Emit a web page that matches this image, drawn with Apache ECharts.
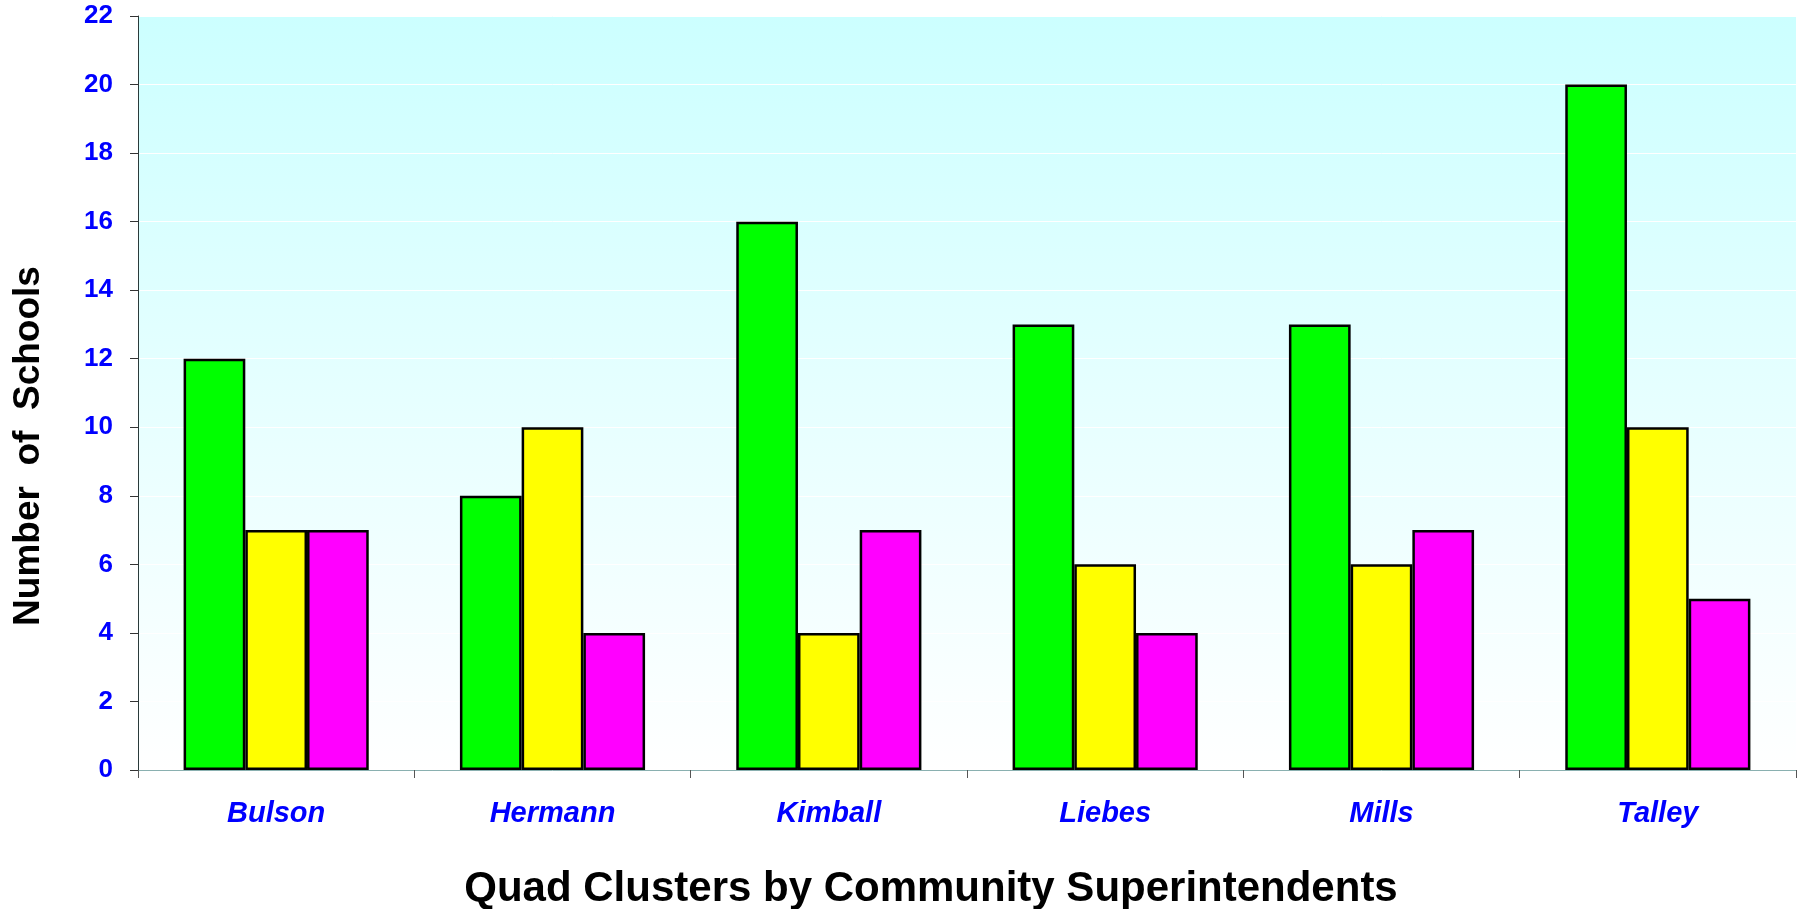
<!DOCTYPE html>
<html>
<head>
<meta charset="utf-8">
<script src="https://cdn.jsdelivr.net/npm/echarts@6/dist/echarts.min.js"></script>
<style>html,body{margin:0;padding:0;background:#fff;}#c{width:1800px;height:909px;}</style>
</head>
<body>
<div id="c"></div>
<script>
const categories = ['Bulson', 'Hermann', 'Kimball', 'Liebes', 'Mills', 'Talley'];
const seriesGreen = [12, 8, 16, 13, 13, 20];
const seriesYellow = [7, 10, 4, 6, 6, 10];
const seriesMagenta = [7, 4, 7, 4, 7, 5];
const yTicks = { min: 0, max: 22, interval: 2 };
const xTitle = 'Quad Clusters by Community Superintendents';
const yTitle = 'Number  of  Schools';

const chart = echarts.init(document.getElementById('c'), null, { renderer: 'canvas' });
const font = '"Liberation Sans", Arial, sans-serif';
function bar(name, data, color) {
  return {
    name, type: 'bar', data,
    barGap: '0%', barCategoryGap: '33%',
    itemStyle: { color, borderColor: '#000', borderWidth: 2.5 },
    emphasis: { disabled: true }
  };
}
chart.setOption({
  animation: false,
  textStyle: { fontFamily: font },
  grid: {
    left: 138, top: 16, right: 4, bottom: 139,
    show: true, borderWidth: 0,
    backgroundColor: {
      type: 'linear', x: 0, y: 0, x2: 0, y2: 1,
      colorStops: [{ offset: 0, color: '#ccffff' }, { offset: 1, color: '#ffffff' }]
    }
  },
  xAxis: {
    type: 'category', data: categories,
    axisLine: { lineStyle: { color: '#8ab0b0', width: 1 } },
    axisTick: { show: true, length: 8, lineStyle: { color: '#555', width: 1 } },
    axisLabel: { color: '#0000ff', fontWeight: 'bold', fontStyle: 'italic', fontSize: 29, margin: 29, fontFamily: font },
    splitLine: { show: false }
  },
  yAxis: {
    type: 'value', min: yTicks.min, max: yTicks.max, interval: yTicks.interval,
    axisLine: { show: true, lineStyle: { color: '#2a3a3a', width: 1 } },
    axisTick: { show: true, length: 8, lineStyle: { color: '#333', width: 1 } },
    axisLabel: { color: '#0000ff', fontWeight: 'bold', fontSize: 26, margin: 25, fontFamily: font },
    splitLine: { show: true, lineStyle: { color: '#ffffff', width: 1 } }
  },
  series: [
    bar('Green', seriesGreen, '#00ff00'),
    bar('Yellow', seriesYellow, '#ffff00'),
    bar('Magenta', seriesMagenta, '#ff00ff')
  ],
  graphic: [
    { type: 'text', x: 931, y: 889, style: { text: xTitle, fill: '#000', font: 'bold 42px ' + font, textAlign: 'center', textVerticalAlign: 'middle' } },
    { type: 'text', x: 29, y: 446, rotation: Math.PI / 2, style: { text: yTitle, fill: '#000', font: 'bold 37px ' + font, textAlign: 'center', textVerticalAlign: 'middle' } }
  ]
});
</script>
</body>
</html>
